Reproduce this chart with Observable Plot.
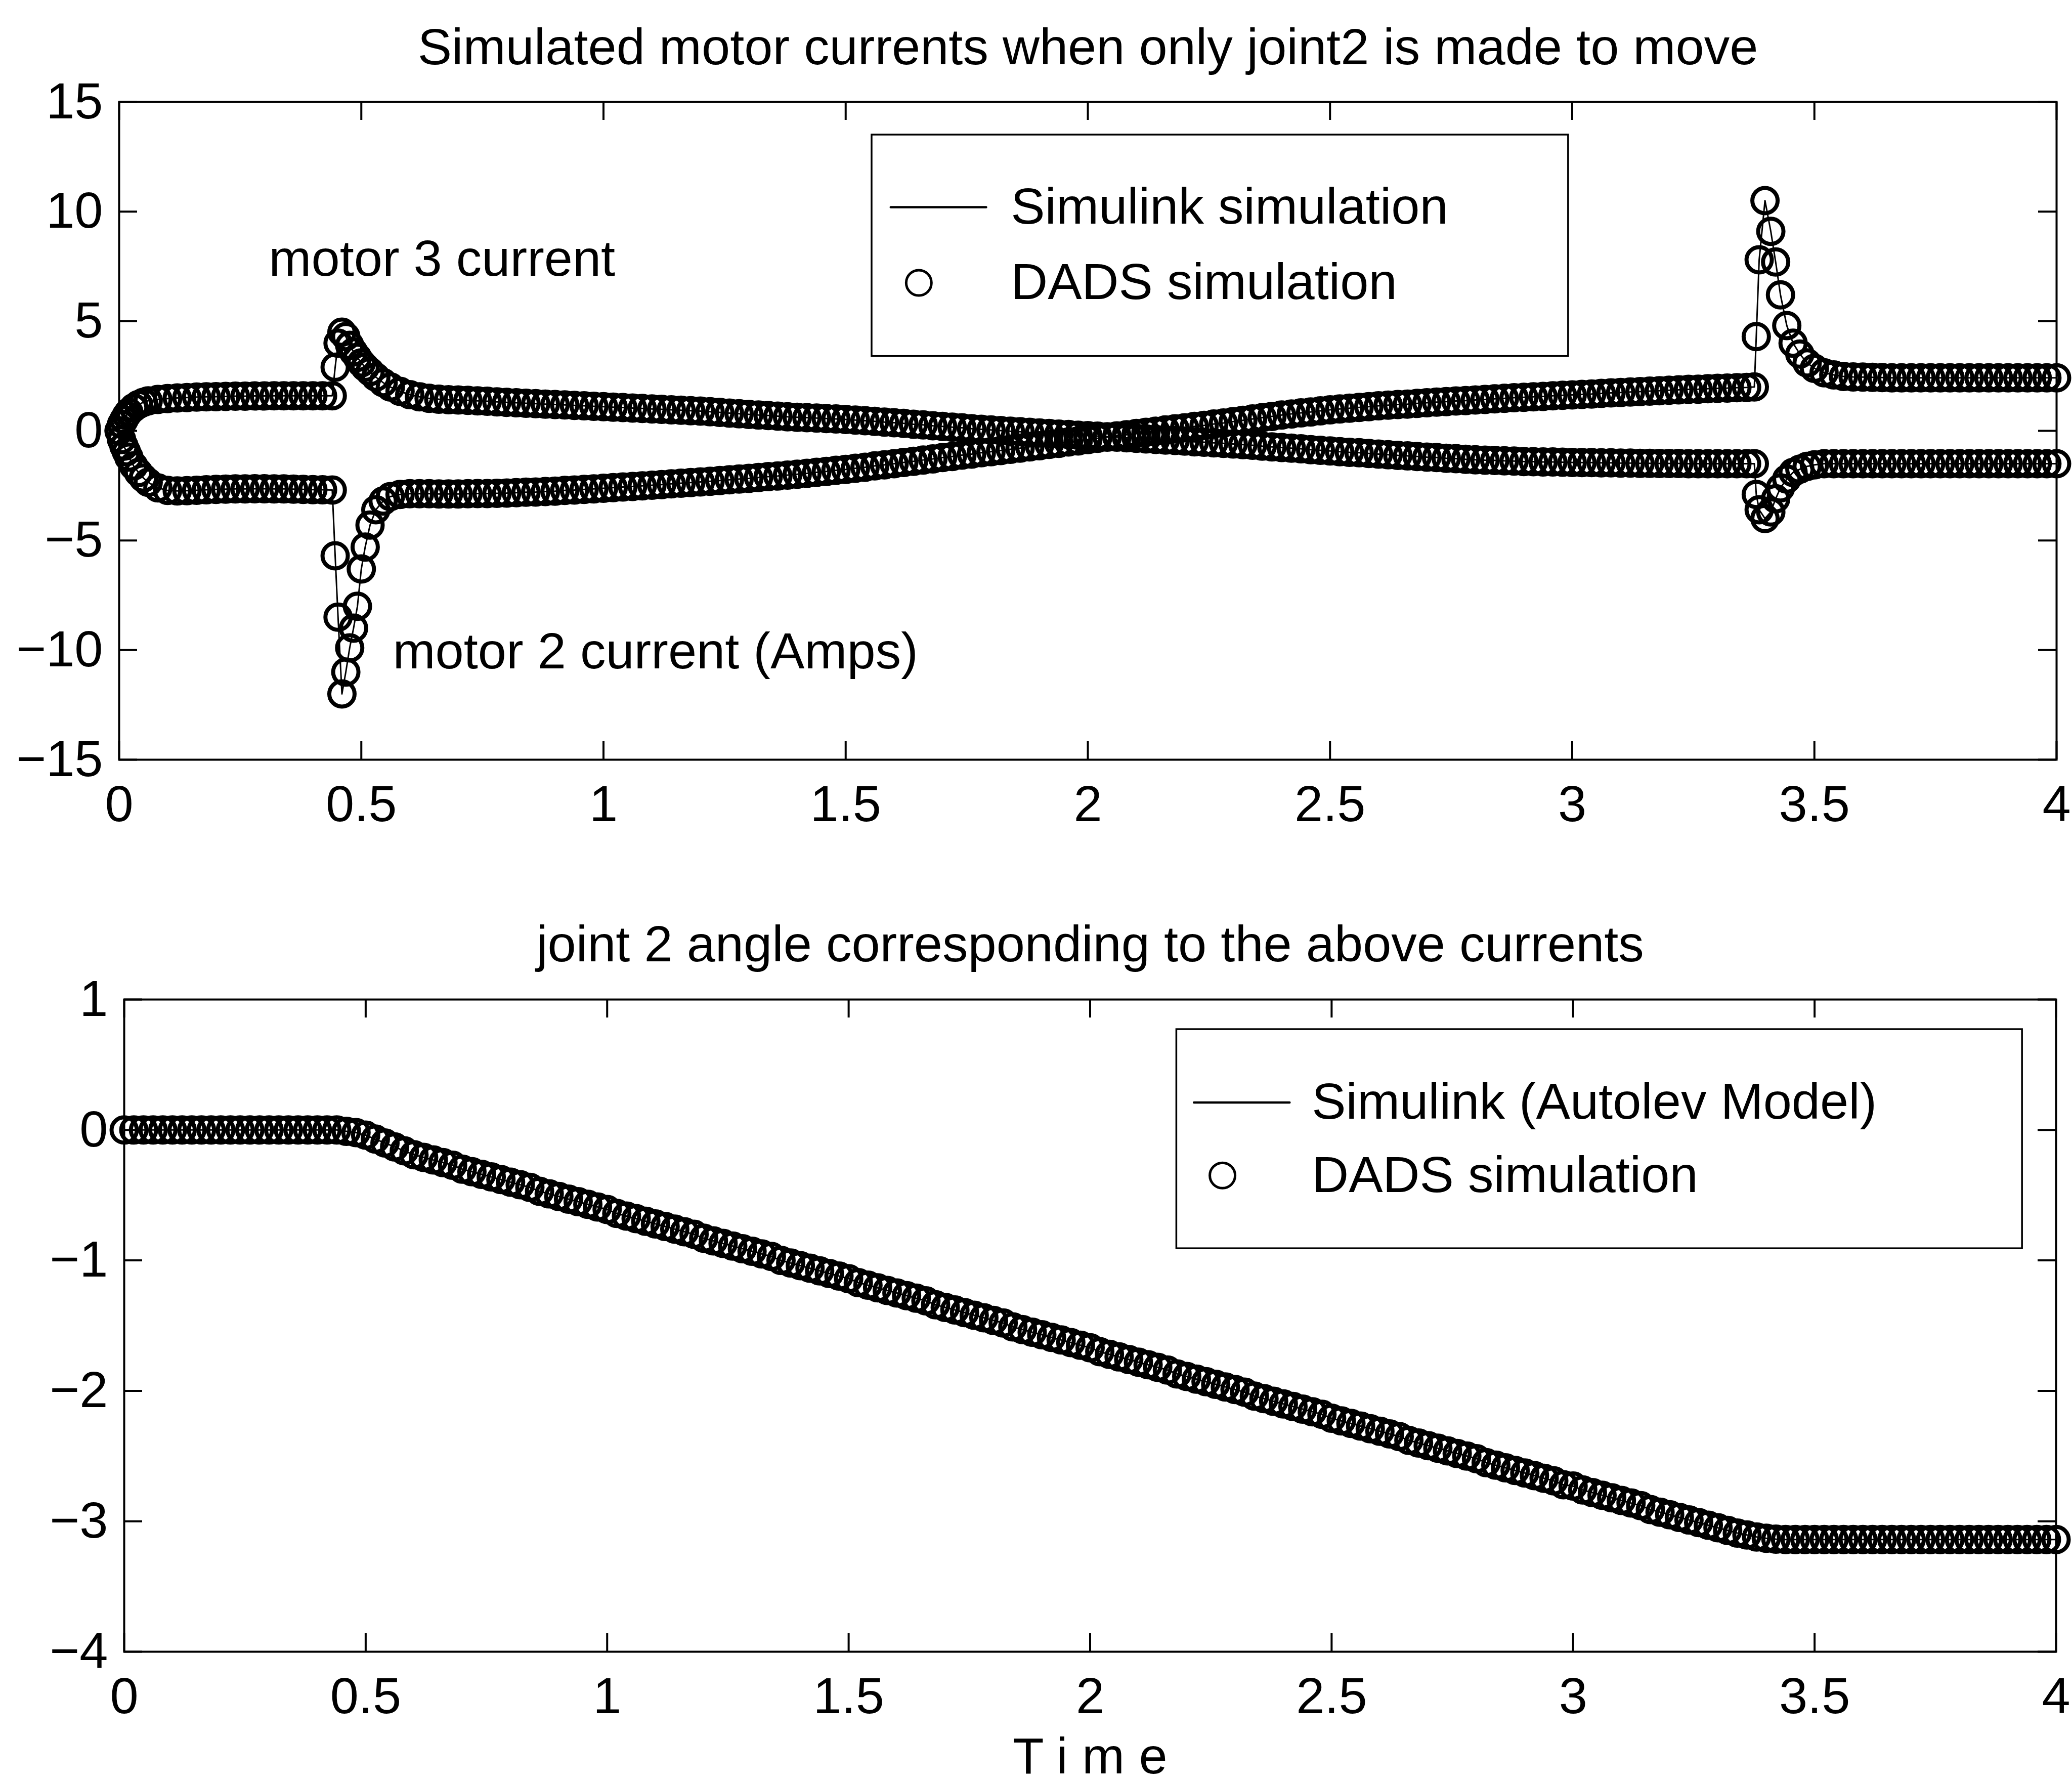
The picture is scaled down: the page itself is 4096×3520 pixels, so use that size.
<!DOCTYPE html>
<html>
<head>
<meta charset="utf-8">
<script src="https://cdn.jsdelivr.net/npm/d3@7"></script>
<script src="https://cdn.jsdelivr.net/npm/@observablehq/plot@0.6"></script>
<style>
html, body { margin: 0; padding: 0; background: #fff; }
#chart svg { display: block; }
</style>
</head>
<body>
<div id="chart"></div>
<script>
// ---------- Titles / labels ----------
const topTitle = "Simulated motor currents when only joint2 is made to move";
const bottomTitle = "joint 2 angle corresponding to the above currents";
const xLabel = "Time";
const topLegendLabels = ["Simulink simulation", "DADS simulation"];
const bottomLegendLabels = ["Simulink (Autolev Model)", "DADS simulation"];
const topAnnotations = [
  {t: 0.309, v: 7.07, label: "motor 3 current"},
  {t: 0.565, v: -10.84, label: "motor 2 current (Amps)"}
];

// ---------- Tick values ----------
const xTicks = [0, 0.5, 1, 1.5, 2, 2.5, 3, 3.5, 4];
const yTicksTop = [-15, -10, -5, 0, 5, 10, 15];
const yTicksBottom = [-4, -3, -2, -1, 0, 1];

// ---------- Motor currents (time in s, current in A) ----------
const tStart = [0,0.005,0.01,0.015,0.02,0.03,0.04,0.05,0.06,0.08,0.1,0.12,0.14,0.16,0.18,0.2,0.22,0.24,0.26,0.28,0.3,0.32,0.34,0.36,0.38,0.4,0.42,0.44];
const m3Start = [0,0.3,0.5,0.7,0.85,1.05,1.2,1.3,1.37,1.43,1.47,1.5,1.52,1.54,1.55,1.56,1.57,1.58,1.58,1.59,1.59,1.6,1.6,1.6,1.6,1.6,1.6,1.6];
const m2Start = [0,-0.4,-0.7,-0.95,-1.2,-1.6,-1.9,-2.15,-2.35,-2.6,-2.72,-2.74,-2.73,-2.71,-2.69,-2.67,-2.66,-2.65,-2.65,-2.64,-2.64,-2.65,-2.65,-2.66,-2.67,-2.68,-2.69,-2.7];

const tSpike1 = [0.446,0.452,0.46,0.468,0.476,0.484,0.492,0.5,0.508,0.518,0.53,0.545,0.56];
const m3Spike1 = [2.9,4.0,4.5,4.3,3.9,3.6,3.35,3.1,2.9,2.7,2.45,2.2,2.0];
const m2Spike1 = [-5.7,-8.5,-12.0,-11.0,-9.9,-9.0,-8.0,-6.3,-5.3,-4.3,-3.6,-3.2,-3.0];

const tMid = [0.58,0.6,0.62,0.64,0.66,0.68,0.7,0.72,0.74,0.76,0.78,
  0.8,0.82,0.84,0.86,0.88,0.9,0.92,0.94,0.96,0.98,
  1,1.02,1.04,1.06,1.08,1.1,1.12,1.14,1.16,1.18,1.2,1.22,1.24,1.26,1.28,1.3,1.32,1.34,1.36,1.38,
  1.4,1.42,1.44,1.46,1.48,1.5,1.52,1.54,1.56,1.58,1.6,1.62,1.64,1.66,1.68,1.7,1.72,1.74,1.76,1.78,
  1.8,1.82,1.84,1.86,1.88,1.9,1.92,1.94,1.96,1.98,
  2,2.02,2.04,2.06,2.08,2.1,2.12,2.14,2.16,2.18,2.2,2.22,2.24,2.26,2.28,2.3,2.32,2.34,2.36,2.38,
  2.4,2.42,2.44,2.46,2.48,2.5,2.52,2.54,2.56,2.58,2.6,2.62,2.64,2.66,2.68,2.7,2.72,2.74,2.76,2.78,
  2.8,2.82,2.84,2.86,2.88,2.9,2.92,2.94,2.96,2.98,
  3,3.02,3.04,3.06,3.08,3.1,3.12,3.14,3.16,3.18,3.2,3.22,3.24,3.26,3.28,3.3,3.32,3.34,3.36];
const m3Mid = [1.8,1.65,1.55,1.48,1.44,1.42,1.41,1.39,1.37,1.35,1.32,
  1.3,1.28,1.26,1.24,1.22,1.2,1.18,1.16,1.14,1.12,
  1.1,1.08,1.06,1.04,1.02,1.0,0.98,0.96,0.94,0.92,0.9,0.87,0.84,0.81,0.78,0.75,0.72,0.7,0.67,0.64,
  0.62,0.6,0.58,0.56,0.54,0.52,0.49,0.46,0.43,0.4,0.37,0.34,0.3,0.27,0.23,0.2,0.17,0.14,0.1,0.07,
  0.04,0.01,-0.02,-0.04,-0.07,-0.1,-0.12,-0.15,-0.17,-0.2,
  -0.22,-0.24,-0.27,-0.29,-0.32,-0.34,-0.37,-0.39,-0.42,-0.44,-0.47,-0.5,-0.52,-0.55,-0.57,-0.6,-0.63,-0.66,-0.7,-0.73,
  -0.76,-0.79,-0.82,-0.86,-0.89,-0.92,-0.95,-0.98,-1.0,-1.03,-1.06,-1.09,-1.12,-1.14,-1.17,-1.2,-1.22,-1.25,-1.27,-1.3,
  -1.32,-1.34,-1.35,-1.37,-1.38,-1.4,-1.41,-1.42,-1.42,-1.43,
  -1.44,-1.45,-1.45,-1.46,-1.46,-1.47,-1.47,-1.48,-1.48,-1.49,-1.49,-1.49,-1.5,-1.5,-1.5,-1.5,-1.5,-1.5,-1.5];
const m2Mid = [-2.9,-2.87,-2.87,-2.87,-2.88,-2.88,-2.88,-2.87,-2.86,-2.86,-2.85,
  -2.84,-2.82,-2.8,-2.79,-2.77,-2.75,-2.72,-2.7,-2.67,-2.65,
  -2.62,-2.59,-2.56,-2.54,-2.51,-2.48,-2.45,-2.42,-2.39,-2.36,-2.33,-2.3,-2.27,-2.23,-2.2,-2.17,-2.13,-2.09,-2.06,-2.02,
  -1.98,-1.94,-1.89,-1.85,-1.8,-1.76,-1.71,-1.66,-1.6,-1.55,-1.5,-1.44,-1.39,-1.33,-1.28,-1.22,-1.17,-1.11,-1.06,-1.0,
  -0.95,-0.9,-0.84,-0.79,-0.73,-0.68,-0.62,-0.57,-0.51,-0.46,
  -0.4,-0.34,-0.29,-0.23,-0.18,-0.12,-0.07,-0.02,0.04,0.09,0.14,0.2,0.25,0.31,0.36,0.42,0.48,0.54,0.6,0.66,
  0.72,0.77,0.82,0.86,0.91,0.96,1.0,1.03,1.07,1.1,1.14,1.17,1.2,1.22,1.25,1.28,1.31,1.33,1.36,1.38,
  1.41,1.43,1.46,1.48,1.51,1.53,1.55,1.57,1.6,1.62,
  1.64,1.66,1.68,1.71,1.73,1.75,1.77,1.79,1.81,1.83,1.85,1.87,1.89,1.9,1.92,1.94,1.95,1.97,1.98];

const tSpike2 = [3.376,3.38,3.386,3.398,3.41,3.42,3.43,3.443,3.456,3.47,3.485,3.5,3.52,3.54,3.56];
const m3Spike2 = [-1.5,-2.9,-3.6,-4.0,-3.7,-3.1,-2.6,-2.2,-1.9,-1.75,-1.62,-1.55,-1.5,-1.5,-1.5];
const m2Spike2 = [2.0,4.3,7.8,10.5,9.1,7.7,6.2,4.8,4.0,3.5,3.1,2.85,2.65,2.55,2.48];

const tEnd = [3.58,3.6,3.62,3.64,3.66,3.68,3.7,3.72,3.74,3.76,3.78,3.8,3.82,3.84,3.86,3.88,3.9,3.92,3.94,3.96,3.98,4];
const m3End = [-1.5,-1.5,-1.5,-1.5,-1.5,-1.5,-1.5,-1.5,-1.5,-1.5,-1.5,-1.5,-1.5,-1.5,-1.5,-1.5,-1.5,-1.5,-1.5,-1.5,-1.5,-1.5];
const m2End = [2.46,2.45,2.44,2.43,2.42,2.42,2.42,2.42,2.42,2.42,2.42,2.42,2.42,2.42,2.42,2.42,2.42,2.42,2.42,2.42,2.42,2.42];

// ---------- Joint 2 angle (rad) ----------
const tAng = [0,0.02,0.04,0.06,0.08,0.1,0.12,0.14,0.16,0.18,0.2,0.22,0.24,0.26,0.28,0.3,0.32,0.34,0.36,0.38,0.4,0.42,0.44,
  0.46,0.48,0.5,0.52,0.54,0.56,0.58,0.6,
  0.62,0.64,0.66,0.68,0.7,0.72,0.74,0.76,0.78,0.8,0.82,0.84,0.86,0.88,0.9,0.92,0.94,0.96,0.98,
  1,1.02,1.04,1.06,1.08,1.1,1.12,1.14,1.16,1.18,1.2,1.22,1.24,1.26,1.28,1.3,1.32,1.34,1.36,1.38,
  1.4,1.42,1.44,1.46,1.48,1.5,1.52,1.54,1.56,1.58,1.6,1.62,1.64,1.66,1.68,1.7,1.72,1.74,1.76,1.78,
  1.8,1.82,1.84,1.86,1.88,1.9,1.92,1.94,1.96,1.98,2,2.02,2.04,2.06,2.08,2.1,2.12,2.14,2.16,2.18,
  2.2,2.22,2.24,2.26,2.28,2.3,2.32,2.34,2.36,2.38,2.4,2.42,2.44,2.46,2.48,2.5,2.52,2.54,2.56,2.58,
  2.6,2.62,2.64,2.66,2.68,2.7,2.72,2.74,2.76,2.78,2.8,2.82,2.84,2.86,2.88,2.9,2.92,2.94,2.96,2.98,
  3,3.02,3.04,3.06,3.08,3.1,3.12,3.14,3.16,3.18,3.2,3.22,3.24,3.26,3.28,3.3,3.32,3.34,3.36,3.38,
  3.4,3.42,3.44,
  3.46,3.48,3.5,3.52,3.54,3.56,3.58,3.6,3.62,3.64,3.66,3.68,3.7,3.72,3.74,3.76,3.78,3.8,3.82,3.84,3.86,3.88,3.9,3.92,3.94,3.96,3.98,4];
const angle = [0,0,0,0,0,0,0,0,0,0,0,0,0,0,0,0,0,0,0,0,0,0,0,
  -0.01,-0.02,-0.04,-0.07,-0.1,-0.13,-0.16,-0.19,
  -0.21,-0.23,-0.25,-0.27,-0.3,-0.32,-0.34,-0.36,-0.38,-0.4,-0.42,-0.44,-0.47,-0.49,-0.51,-0.53,-0.55,-0.57,-0.59,
  -0.61,-0.64,-0.66,-0.68,-0.7,-0.72,-0.74,-0.76,-0.78,-0.8,-0.83,-0.85,-0.87,-0.89,-0.91,-0.93,-0.95,-0.97,-1.0,-1.02,
  -1.04,-1.06,-1.08,-1.1,-1.12,-1.14,-1.17,-1.19,-1.21,-1.23,-1.25,-1.27,-1.29,-1.31,-1.34,-1.36,-1.38,-1.4,-1.42,-1.44,
  -1.46,-1.48,-1.51,-1.53,-1.55,-1.57,-1.59,-1.61,-1.63,-1.65,-1.67,-1.7,-1.72,-1.74,-1.76,-1.78,-1.8,-1.82,-1.84,-1.87,
  -1.89,-1.91,-1.93,-1.95,-1.97,-1.99,-2.01,-2.04,-2.06,-2.08,-2.1,-2.12,-2.14,-2.16,-2.18,-2.21,-2.23,-2.25,-2.27,-2.29,
  -2.31,-2.33,-2.35,-2.38,-2.4,-2.42,-2.44,-2.46,-2.48,-2.5,-2.52,-2.55,-2.57,-2.59,-2.61,-2.63,-2.65,-2.67,-2.69,-2.72,
  -2.73,-2.76,-2.78,-2.8,-2.82,-2.84,-2.86,-2.88,-2.91,-2.93,-2.95,-2.97,-2.99,-3.01,-3.03,-3.05,-3.07,-3.09,-3.105,-3.12,
  -3.13,-3.137,-3.14,
  -3.14,-3.14,-3.14,-3.14,-3.14,-3.14,-3.14,-3.14,-3.14,-3.14,-3.14,-3.14,-3.14,-3.14,-3.14,-3.14,-3.14,-3.14,-3.14,-3.14,-3.14,-3.14,-3.14,-3.14,-3.14,-3.14,-3.14,-3.14];

// ---------- Build rows ----------
const tCur = [...tStart, ...tSpike1, ...tMid, ...tSpike2, ...tEnd];
const m3Cur = [...m3Start, ...m3Spike1, ...m3Mid, ...m3Spike2, ...m3End];
const m2Cur = [...m2Start, ...m2Spike1, ...m2Mid, ...m2Spike2, ...m2End];
const curRows = tCur.map((t, i) => ({t, m3: m3Cur[i], m2: m2Cur[i]}));
const angRows = tAng.map((t, i) => ({t, a: angle[i]}));

// ---------- Styling / layout ----------
const FONT = '"Liberation Sans", Arial, Helvetica, sans-serif';
const FS = 101;
const W = 4096;
const TICK = 36;
const FRAME_W = 4;
const DOT_R = 25;
const DOT_SW = 8;
const LEG_DOT_SW = 5;
const LINE_SW = 3;
const LEG_LINE_SW = 4.5;
const fmt = d3.format("~g");

function boxTicks(frameW, frameH, yTicks) {
  return [
    Plot.ruleX(xTicks, {x: d => d, insetTop: frameH - TICK, stroke: "#000", strokeWidth: FRAME_W}),
    Plot.ruleX(xTicks, {x: d => d, insetBottom: frameH - TICK, stroke: "#000", strokeWidth: FRAME_W}),
    Plot.ruleY(yTicks, {y: d => d, insetRight: frameW - TICK, stroke: "#000", strokeWidth: FRAME_W}),
    Plot.ruleY(yTicks, {y: d => d, insetLeft: frameW - TICK, stroke: "#000", strokeWidth: FRAME_W}),
    Plot.frame({stroke: "#000", strokeWidth: FRAME_W}),
    Plot.axisX(xTicks, {tickSize: 0, tickPadding: 50, tickFormat: fmt, fontSize: FS, label: null}),
    Plot.axisY(yTicks, {tickSize: 0, tickPadding: 32, tickFormat: fmt, fontSize: FS, label: null})
  ];
}

// ---------- Top chart ----------
const topM = {top: 201, bottom: 199, left: 235, right: 31};
const topH = 1700;
const topLegendBox = [{x1: 1.554, x2: 2.992, y1: 3.4, y2: 13.5}];
const topLegendLine = [{x: 1.593, y: 10.2}, {x: 1.79, y: 10.2}];
const topLegendDot = [{x: 1.651, y: 6.75}];
const topLegendText = [{x: 1.841, y: 10.2, label: topLegendLabels[0]}, {x: 1.841, y: 6.75, label: topLegendLabels[1]}];

const topPlot = Plot.plot({
  width: W, height: topH,
  marginTop: topM.top, marginBottom: topM.bottom, marginLeft: topM.left, marginRight: topM.right,
  style: {fontFamily: FONT, fontSize: FS + "px", color: "#000", background: "#fff", overflow: "visible"},
  x: {domain: [0, 4], label: null},
  y: {domain: [-15, 15], label: null},
  marks: [
    Plot.line(curRows, {x: "t", y: "m3", stroke: "#000", strokeWidth: LINE_SW}),
    Plot.line(curRows, {x: "t", y: "m2", stroke: "#000", strokeWidth: LINE_SW}),
    Plot.dot(curRows, {x: "t", y: "m3", r: DOT_R, stroke: "#000", strokeWidth: DOT_SW, fill: "none"}),
    Plot.dot(curRows, {x: "t", y: "m2", r: DOT_R, stroke: "#000", strokeWidth: DOT_SW, fill: "none"}),
    ...boxTicks(W - topM.left - topM.right, topH - topM.top - topM.bottom, yTicksTop),
    Plot.text([topTitle], {text: d => d, frameAnchor: "top", dy: -75, lineAnchor: "bottom", fontSize: FS}),
    Plot.text(topAnnotations, {x: "t", y: "v", text: "label", textAnchor: "start", lineAnchor: "bottom", fontSize: FS}),
    Plot.rect(topLegendBox, {x1: "x1", x2: "x2", y1: "y1", y2: "y2", fill: "#fff", stroke: "#000", strokeWidth: 3.5}),
    Plot.line(topLegendLine, {x: "x", y: "y", stroke: "#000", strokeWidth: LEG_LINE_SW}),
    Plot.dot(topLegendDot, {x: "x", y: "y", r: DOT_R, stroke: "#000", strokeWidth: LEG_DOT_SW, fill: "none"}),
    Plot.text(topLegendText, {x: "x", y: "y", text: "label", textAnchor: "start", lineAnchor: "middle", fontSize: FS})
  ]
});

// ---------- Bottom chart ----------
const botM = {top: 275, bottom: 256, left: 245, right: 32};
const botH = 1820;
const botLegendBox = [{x1: 2.179, x2: 3.93, y1: -0.909, y2: 0.771}];
const botLegendLine = [{x: 2.215, y: 0.211}, {x: 2.413, y: 0.211}];
const botLegendDot = [{x: 2.274, y: -0.349}];
const botLegendText = [{x: 2.459, y: 0.211, label: bottomLegendLabels[0]}, {x: 2.459, y: -0.349, label: bottomLegendLabels[1]}];

const botPlot = Plot.plot({
  width: W, height: botH,
  marginTop: botM.top, marginBottom: botM.bottom, marginLeft: botM.left, marginRight: botM.right,
  style: {fontFamily: FONT, fontSize: FS + "px", color: "#000", background: "#fff", overflow: "visible"},
  x: {domain: [0, 4], label: null},
  y: {domain: [-4, 1], label: null},
  marks: [
    Plot.line(angRows, {x: "t", y: "a", stroke: "#000", strokeWidth: LINE_SW}),
    Plot.dot(angRows, {x: "t", y: "a", r: DOT_R, stroke: "#000", strokeWidth: DOT_SW, fill: "none"}),
    ...boxTicks(W - botM.left - botM.right, botH - botM.top - botM.bottom, yTicksBottom),
    Plot.text([bottomTitle], {text: d => d, frameAnchor: "top", dy: -76, lineAnchor: "bottom", fontSize: FS}),
    Plot.text([xLabel], {text: d => d, frameAnchor: "bottom", dy: 240, dx: 14, lineAnchor: "bottom", fontSize: FS}),
    Plot.rect(botLegendBox, {x1: "x1", x2: "x2", y1: "y1", y2: "y2", fill: "#fff", stroke: "#000", strokeWidth: 3.5}),
    Plot.line(botLegendLine, {x: "x", y: "y", stroke: "#000", strokeWidth: LEG_LINE_SW}),
    Plot.dot(botLegendDot, {x: "x", y: "y", r: DOT_R, stroke: "#000", strokeWidth: LEG_DOT_SW, fill: "none"}),
    Plot.text(botLegendText, {x: "x", y: "y", text: "label", textAnchor: "start", lineAnchor: "middle", fontSize: FS})
  ]
});

// letter-spaced "Time" label as in the original
d3.select(botPlot).selectAll("text").filter(function() { return this.textContent === xLabel; })
  .attr("letter-spacing", "0.28em");

const chart = document.getElementById("chart");
chart.appendChild(topPlot);
chart.appendChild(botPlot);
</script>
</body>
</html>
